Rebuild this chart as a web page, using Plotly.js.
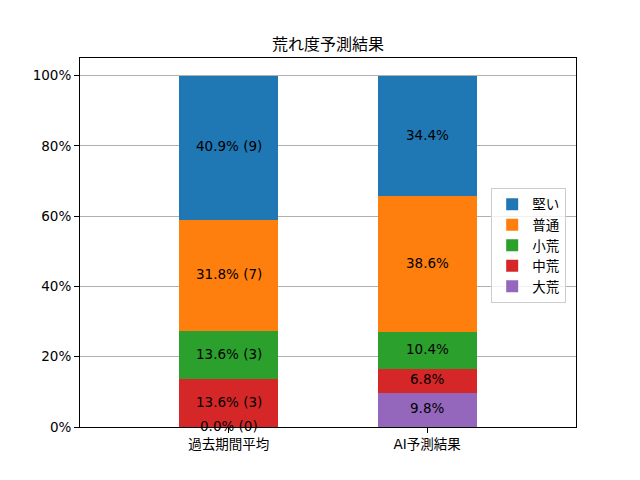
<!DOCTYPE html>
<html>
<head>
<meta charset="utf-8">
<script src="https://cdn.plot.ly/plotly-3.0.1.min.js"></script>
<style>
  html, body { margin: 0; padding: 0; background: #fff; }
  #plot { width: 640px; height: 480px; }
</style>
</head>
<body>
<div id="plot"></div>
<script>
// データ
const categories = ['過去期間平均', 'AI予測結果'];
const levels = ['大荒', '中荒', '小荒', '普通', '堅い'];   // 下から順
const levelColors = ['#9467bd', '#d62728', '#2ca02c', '#ff7f0e', '#1f77b4'];

const pastPct   = [0.0, 13.6, 13.6, 31.8, 40.9];
const pastCount = [0, 3, 3, 7, 9];
const aiPct     = [9.8, 6.8, 10.4, 38.6, 34.4];

const FONT = '"DejaVu Sans", "Noto Sans CJK JP", sans-serif';
const xPos = [0, 1];

// トレース（積み上げ棒）
const traces = levels.map((name, i) => ({
  type: 'bar',
  name: name,
  x: xPos,
  y: [pastPct[i], aiPct[i]],
  width: 0.5,
  marker: { color: levelColors[i], line: { width: 0 } },
  hoverinfo: 'none'
}));

// ラベル（各セグメントの中央）
const annotations = [];
let basePast = 0, baseAi = 0;
levels.forEach((name, i) => {
  annotations.push({
    x: xPos[0], y: basePast + pastPct[i] / 2, xref: 'x', yref: 'y',
    text: pastPct[i].toFixed(1) + '% (' + pastCount[i] + ')',
    showarrow: false, yshift: 1.5,
    font: { family: FONT, size: 13.5, color: '#000' }
  });
  annotations.push({
    x: xPos[1], y: baseAi + aiPct[i] / 2, xref: 'x', yref: 'y',
    text: aiPct[i].toFixed(1) + '%',
    showarrow: false, yshift: 1.5,
    font: { family: FONT, size: 13.5, color: '#000' }
  });
  basePast += pastPct[i];
  baseAi += aiPct[i];
});

const layout = {
  width: 640, height: 480,
  barmode: 'stack',
  title: {
    text: '荒れ度予測結果',
    font: { family: FONT, size: 16, color: '#000' },
    x: 0.5 * (80 + 576) / 640, xanchor: 'center',
    y: 1 - 44 / 480, yanchor: 'middle'
  },
  font: { family: FONT, size: 13.5, color: '#000' },
  margin: { l: 80, r: 64, t: 58, b: 53 },
  paper_bgcolor: '#fff',
  plot_bgcolor: '#fff',
  xaxis: {
    range: [-0.75, 1.75],
    tickmode: 'array',
    tickvals: xPos,
    ticktext: categories,
    ticks: 'outside', ticklen: 5, tickcolor: '#000', tickwidth: 1,
    showline: true, linecolor: '#000', linewidth: 1, mirror: true,
    showgrid: false, zeroline: false,
    tickfont: { family: FONT, size: 13.5, color: '#000' }
  },
  yaxis: {
    range: [0, 105],
    tickmode: 'array',
    tickvals: [0, 20, 40, 60, 80, 100],
    ticktext: ['0%', '20%', '40%', '60%', '80%', '100%'],
    ticks: 'outside', ticklen: 5, tickcolor: '#000', tickwidth: 1,
    showline: true, linecolor: '#000', linewidth: 1, mirror: true,
    showgrid: true, gridcolor: '#b0b0b0', gridwidth: 1,
    zeroline: false,
    tickfont: { family: FONT, size: 13.5, color: '#000' }
  },
  legend: {
    x: 0.829, y: 0.648, xanchor: 'left', yanchor: 'top',
    traceorder: 'reversed',
    bgcolor: 'rgba(255,255,255,0.8)',
    bordercolor: '#cccccc', borderwidth: 1,
    font: { family: FONT, size: 13.5, color: '#000' }
  },
  annotations: annotations
};

Plotly.newPlot('plot', traces, layout, { staticPlot: true, displayModeBar: false });
</script>
</body>
</html>
